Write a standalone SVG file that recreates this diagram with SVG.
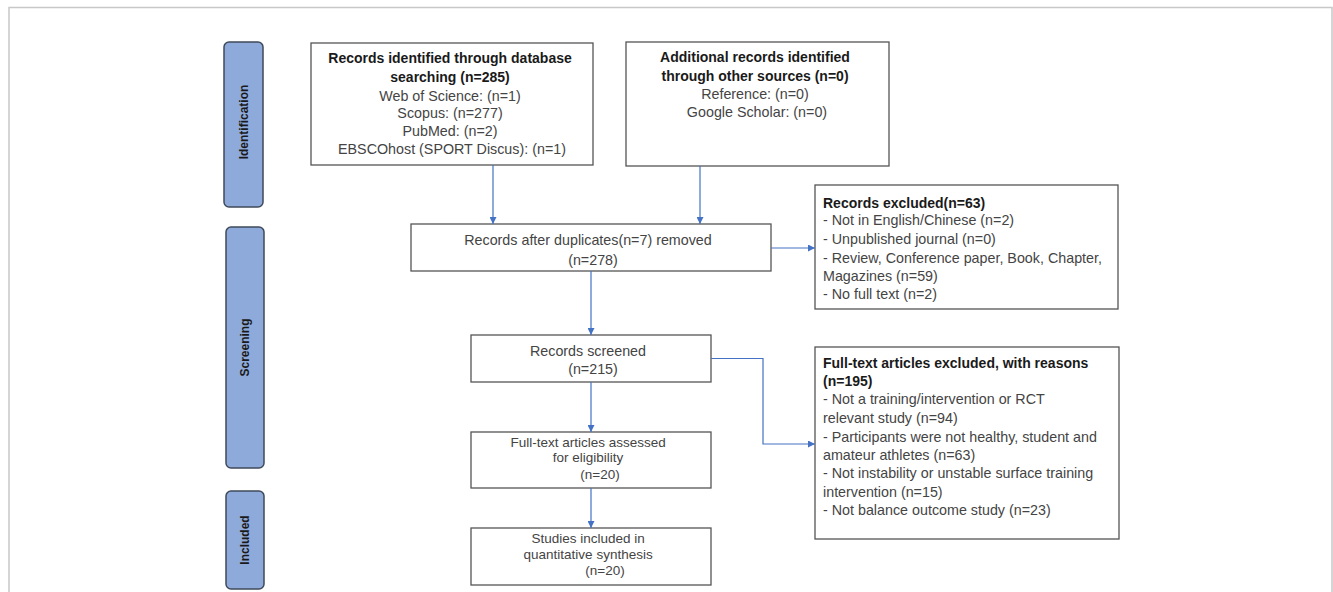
<svg xmlns="http://www.w3.org/2000/svg" width="1333" height="592" viewBox="0 0 1333 592">
<style>
.frame{fill:none;stroke:#c8c8c8;stroke-width:1.5}
.phase{fill:#8eaadb;stroke:#3f4a5a;stroke-width:1.5}
.box{fill:#fff;stroke:#555;stroke-width:1.3}
.ph{font-family:"Liberation Sans",Arial,sans-serif;font-weight:bold;font-size:12px;fill:#1a1a1a;text-anchor:middle}
.t{font-family:"Liberation Sans",Arial,sans-serif;font-size:14.3px;fill:#444}
.s{font-size:13.5px}
.b{font-weight:bold;font-size:14px;fill:#1a1a1a}
.c{text-anchor:middle}
.con{fill:none;stroke:#4472c4;stroke-width:1.2}
</style>
<defs>
<marker id="ah" viewBox="0 0 10 10" refX="10" refY="5" markerWidth="7" markerHeight="7" markerUnits="userSpaceOnUse" orient="auto">
<path d="M0,0 L10,5 L0,10 z" fill="#4472c4"/>
</marker>
</defs>
<rect width="1333" height="592" fill="#fff"/>
<path class="frame" d="M9,600 L9,7.5 L1332,7.5 L1332,600"/>

<g id="phase-identification">
<rect class="phase" x="224" y="42" width="39" height="165" rx="5"/>
<text class="ph" transform="translate(248,122) rotate(-90)">Identification</text>
</g>
<g id="phase-screening">
<rect class="phase" x="226" y="227" width="38" height="241" rx="5"/>
<text class="ph" transform="translate(249,347.5) rotate(-90)">Screening</text>
</g>
<g id="phase-included">
<rect class="phase" x="226" y="491" width="38" height="98" rx="5"/>
<text class="ph" transform="translate(249,540) rotate(-90)">Included</text>
</g>

<g id="n-database">
<rect class="box" x="311" y="43" width="282" height="122"/>
<text class="t c" x="452">
<tspan class="b" x="452" y="62.5">Records identified through database</tspan>
<tspan class="b" x="452" y="81.5">searching (n=285)</tspan>
<tspan x="452" y="100.5">Web of Science: (n=1)</tspan>
<tspan x="452" y="118">Scopus: (n=277)</tspan>
<tspan x="452" y="135.5">PubMed: (n=2)</tspan>
<tspan x="452" y="153.5">EBSCOhost (SPORT Discus): (n=1)</tspan>
</text>
</g>

<g id="n-other">
<rect class="box" x="626" y="42" width="263" height="124"/>
<text class="t c" x="757">
<tspan class="b" x="757" y="61.5">Additional records identified</tspan>
<tspan class="b" x="757" y="80.5">through other sources (n=0)</tspan>
<tspan x="757" y="98.5">Reference: (n=0)</tspan>
<tspan x="757" y="116.5">Google Scholar: (n=0)</tspan>
</text>
</g>

<g id="n-dedup">
<rect class="box" x="411" y="224" width="360" height="47"/>
<text class="t c">
<tspan x="590" y="245">Records after duplicates(n=7) removed</tspan>
<tspan x="593" y="265">(n=278)</tspan>
</text>
</g>

<g id="n-excluded">
<rect class="box" x="815" y="185" width="303" height="124"/>
<text class="t">
<tspan class="b" x="823" y="207.5">Records excluded(n=63)</tspan>
<tspan x="823" y="225">- Not in English/Chinese (n=2)</tspan>
<tspan x="823" y="244">- Unpublished journal (n=0)</tspan>
<tspan x="823" y="262.5">- Review, Conference paper, Book, Chapter,</tspan>
<tspan x="823" y="281">Magazines (n=59)</tspan>
<tspan x="823" y="299">- No full text (n=2)</tspan>
</text>
</g>

<g id="n-screened">
<rect class="box" x="471" y="335" width="240" height="47"/>
<text class="t c">
<tspan x="590" y="356">Records screened</tspan>
<tspan x="593" y="374">(n=215)</tspan>
</text>
</g>

<g id="n-fulltext">
<rect class="box" x="471" y="432" width="240" height="56"/>
<text class="t s c">
<tspan x="590" y="446.5">Full-text articles assessed</tspan>
<tspan x="590" y="462">for eligibility</tspan>
<tspan x="600" y="478.5">(n=20)</tspan>
</text>
</g>

<g id="n-included">
<rect class="box" x="471" y="528" width="240" height="57"/>
<text class="t s c">
<tspan x="590" y="543">Studies included in</tspan>
<tspan x="590" y="558.5">quantitative synthesis</tspan>
<tspan x="605" y="575">(n=20)</tspan>
</text>
</g>

<g id="n-ftexcluded">
<rect class="box" x="815" y="347" width="304" height="192"/>
<text class="t">
<tspan class="b" x="823" y="367.5">Full-text articles excluded, with reasons</tspan>
<tspan class="b" x="823" y="385.5">(n=195)</tspan>
<tspan x="823" y="404">- Not a training/intervention or RCT</tspan>
<tspan x="823" y="423">relevant study (n=94)</tspan>
<tspan x="823" y="441.5">- Participants were not healthy, student and</tspan>
<tspan x="823" y="460">amateur athletes (n=63)</tspan>
<tspan x="823" y="478">- Not instability or unstable surface training</tspan>
<tspan x="823" y="496.5">intervention (n=15)</tspan>
<tspan x="823" y="515">- Not balance outcome study (n=23)</tspan>
</text>
</g>

<g id="connectors">
<path class="con" marker-end="url(#ah)" d="M493,165 L493,224"/>
<path class="con" marker-end="url(#ah)" d="M700,166 L700,224"/>
<path class="con" marker-end="url(#ah)" d="M771,248 L815,248"/>
<path class="con" marker-end="url(#ah)" d="M591,271 L591,335"/>
<path class="con" marker-end="url(#ah)" d="M591,382 L591,432"/>
<path class="con" marker-end="url(#ah)" d="M591,488 L591,528"/>
<path class="con" marker-end="url(#ah)" d="M711,358.5 L763,358.5 L763,444 L815,444"/>
</g>
</svg>
